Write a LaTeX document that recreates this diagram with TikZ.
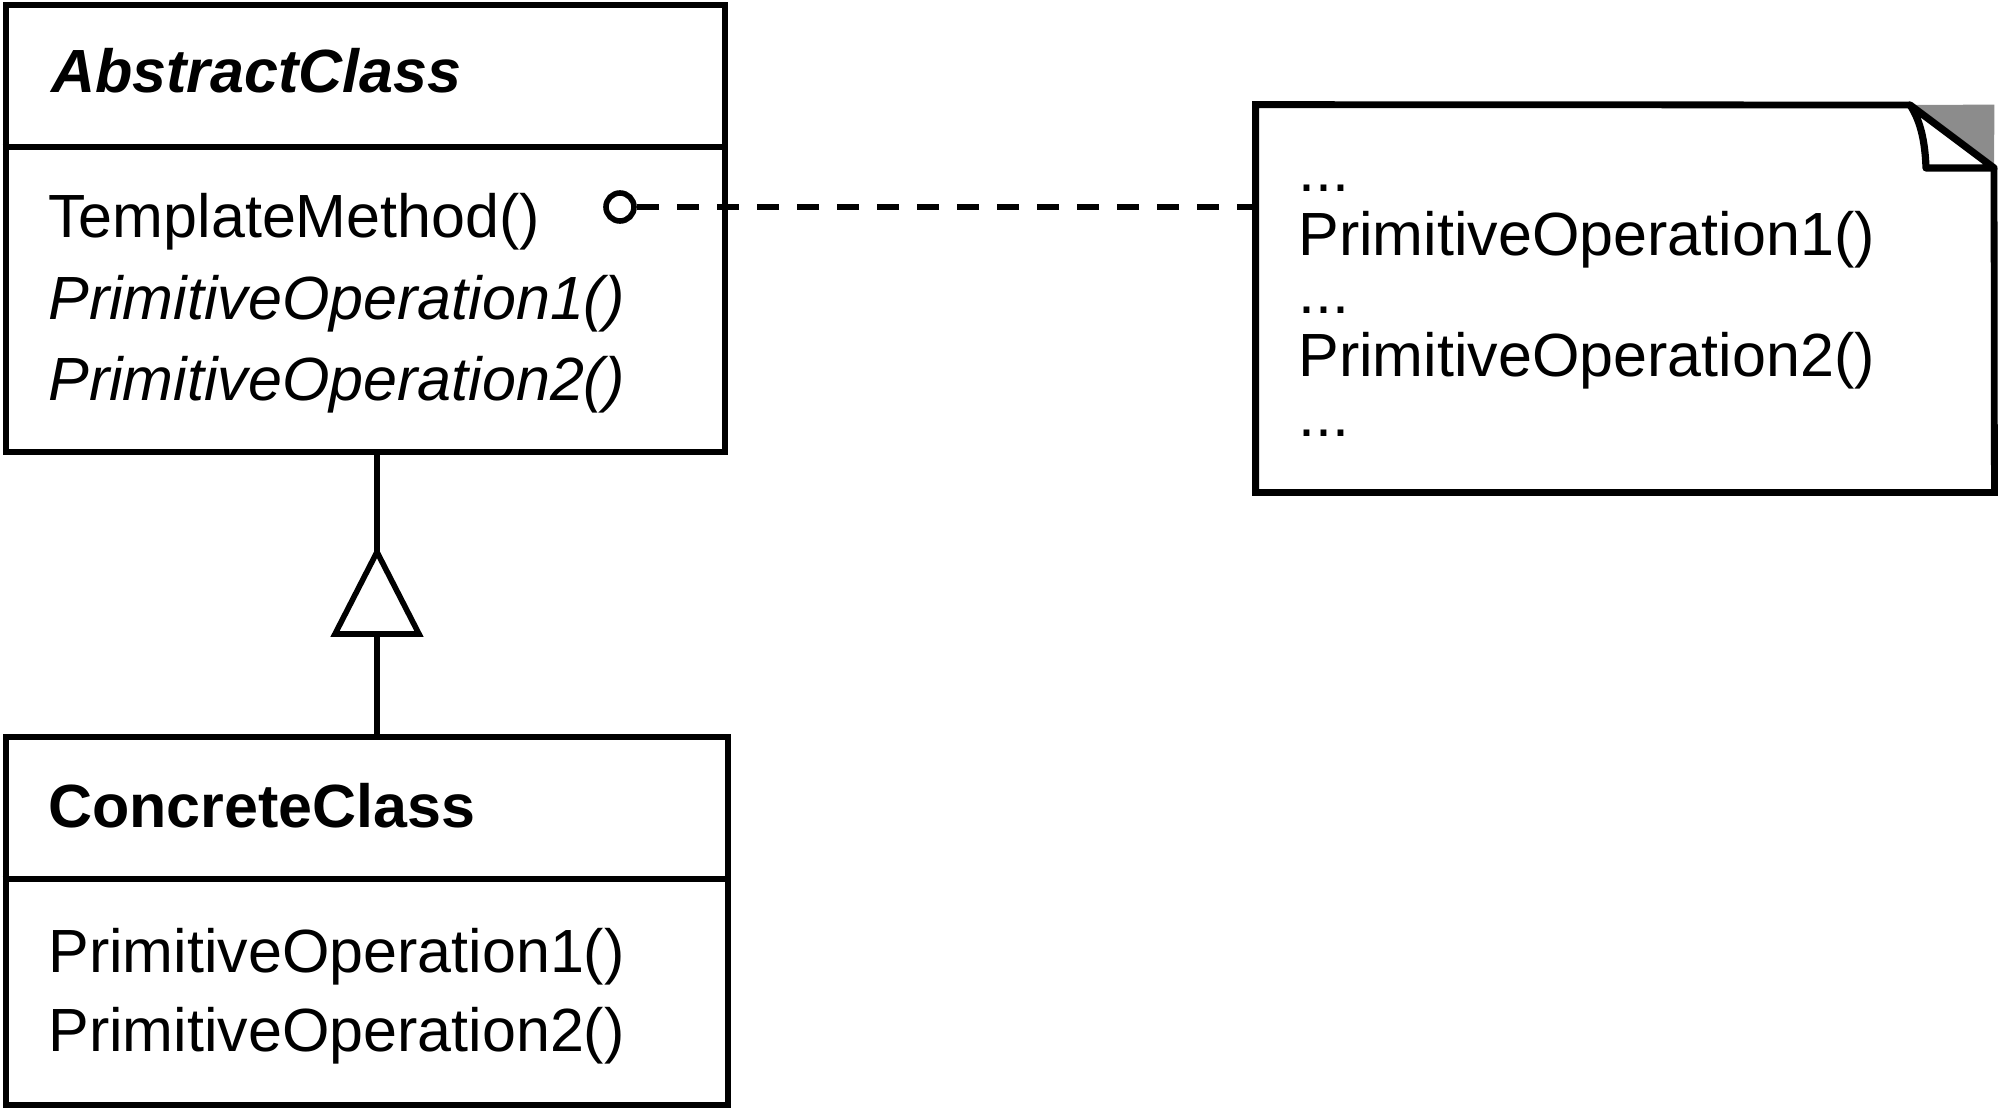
\documentclass[tikz,border=0pt]{standalone}
\usepackage{fontspec}
\setmainfont{Liberation Sans}
\begin{document}
\begin{tikzpicture}[x=0.5pt,y=-0.5pt,
  box/.style={draw, line width=3.4pt, rectangle, inner sep=0pt},
  lbl/.style={anchor=base west, inner sep=0pt, font=\fontsize{30.5}{36}\selectfont},
  ttl/.style={anchor=base west, inner sep=0pt, font=\fontsize{30.5}{36}\selectfont\bfseries},
  ttli/.style={anchor=base west, inner sep=0pt, font=\fontsize{30.5}{36}\selectfont\bfseries\itshape},
  lbli/.style={anchor=base west, inner sep=0pt, font=\fontsize{30.5}{36}\selectfont\itshape},
  conn/.style={line width=2.8pt},
  divider/.style={line width=3.2pt}
]
\useasboundingbox (0,0) rectangle (2000,1108);

% AbstractClass
\node[box, minimum width=359.5pt, minimum height=223.5pt] (abs) at (365.5,228.5) {};
\draw[divider] (abs.west |- 0,147) -- (abs.east |- 0,147);
\node[ttli] (absname) at (51,92) {AbstractClass};
\node[lbl] (tm) at (48,237) {TemplateMethod()};
\node[lbli] (po1a) at (48,319) {PrimitiveOperation1()};
\node[lbli] (po2a) at (48,400) {PrimitiveOperation2()};

% ConcreteClass
\node[box, minimum width=361pt, minimum height=184pt] (cc) at (367,921) {};
\draw[divider] (cc.west |- 0,879) -- (cc.east |- 0,879);
\node[ttl] (ccname) at (48,827) {ConcreteClass};
\node[lbl] (po1c) at (48,972) {PrimitiveOperation1()};
\node[lbl] (po2c) at (48,1051) {PrimitiveOperation2()};

% Note
\node[minimum width=369pt, minimum height=193.5pt, inner sep=0pt] (note) at (1625,298.5) {};
\fill[black!45] (1910,105) -- (note.north east) -- (1994,170) -- cycle;
\draw[line width=3.4pt, line join=miter] (1910,105) -- (note.north west) -- (note.south west) -- (note.south east) -- (1994,168);
\filldraw[fill=white, line width=3.6pt, line join=round] (1910,105) .. controls (1920,120) and (1925,140) .. (1926,168) -- (1994,168) -- cycle;
\node[lbl] (d1) at (1298,191) {...};
\node[lbl] (n1) at (1298,255) {PrimitiveOperation1()};
\node[lbl] (d2) at (1298,313) {...};
\node[lbl] (n2) at (1298,376) {PrimitiveOperation2()};
\node[lbl] (d3) at (1298,436) {...};

% note connector
\node[circle, draw, line width=2.8pt, minimum size=14pt, inner sep=0pt] (dot) at (620,207) {};
\draw[conn, line width=3.2pt, dash pattern=on 11pt off 9pt] (dot.east) -- (dot.east -| note.west);

% inheritance
\coordinate (tip) at (377,552);
\coordinate (tb) at (377,634);
\draw[conn] (abs.south -| tip) -- (tip);
\draw[conn, line join=miter] (tip) -- (419,634) -- (335,634) -- cycle;
\draw[conn] (tb) -- (cc.north -| tb);
\end{tikzpicture}
\end{document}
